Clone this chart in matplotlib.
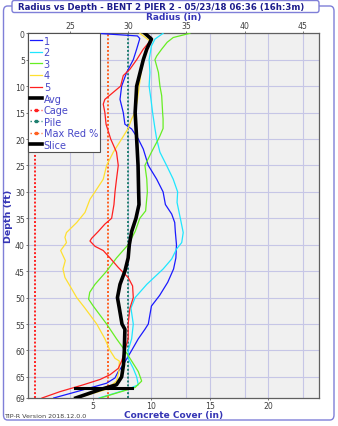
import matplotlib
matplotlib.use("Agg")
import matplotlib.pyplot as plt
from matplotlib.lines import Line2D
from matplotlib.patches import FancyBboxPatch

plt.rcParams['font.family'] = ['DejaVu Sans']

# ---- data (radius in inches vs depth in ft) ----
d1 = [0, 0.5, 1.0, 3, 5, 7.4, 10, 12.5, 15, 17.2, 18.1, 20, 21.9, 25, 27.6, 30, 32.4, 34.2, 35.8, 37.5, 40, 42.5, 44.6, 47.1, 49.6, 51.6, 55, 56, 57.8, 60, 62.7, 64, 65.2, 66.2, 67.8, 69]
r1 = [27.3, 30.8, 31.0, 30.73, 30.44, 29.87, 29.44, 29.3, 29.58, 29.72, 30.3, 30.87, 31.3, 31.73, 32.45, 33.0, 33.2, 33.74, 34.0, 34.05, 34.15, 34.1, 33.9, 33.4, 32.7, 32.0, 31.73, 31.44, 30.87, 30.3, 29.58, 29.15, 28.87, 28.15, 25.58, 23.6]

d2 = [0, 1.1, 2.4, 5, 7.4, 10, 12.5, 15, 18, 20, 22.5, 25, 27.6, 30, 32, 35.2, 37.7, 39.6, 40.8, 42.7, 44.6, 47.5, 50, 52, 55, 57.8, 60, 61.5, 63.4, 65, 66.5, 67.4, 69]
r2 = [33.0, 32.3, 32.0, 31.8, 31.87, 31.8, 31.96, 32.1, 32.3, 32.45, 32.73, 33.3, 33.87, 34.25, 34.2, 34.5, 34.73, 34.6, 34.16, 33.74, 33.0, 31.6, 30.6, 30.24, 30.44, 30.3, 30.0, 30.0, 30.44, 30.73, 30.87, 29.9, 27.5]

d3 = [0, 0.8, 1.7, 3, 4.3, 5, 7.4, 10, 11.8, 15, 16.2, 18, 19.4, 20, 22.5, 25, 27.6, 30, 33.6, 35, 37.5, 40, 42.5, 45, 47.5, 49, 50.3, 51.6, 55, 57.8, 60, 62, 64, 65.8, 67, 69]
r3 = [35.3, 33.87, 33.35, 32.88, 32.45, 32.3, 32.6, 32.73, 32.88, 32.96, 33.0, 33.0, 32.73, 32.6, 32.0, 31.44, 31.6, 31.65, 31.5, 31.0, 30.6, 30.0, 29.0, 28.15, 27.15, 26.7, 26.6, 27.0, 28.15, 29.0, 29.72, 30.3, 30.87, 31.16, 30.6, 27.6]

d4 = [0, 1.5, 3, 5, 7.5, 10, 12.5, 15, 16.2, 18, 20, 22.5, 25, 27.6, 30, 31.4, 33.9, 35.8, 37.7, 38.6, 39.6, 41.1, 43, 44.6, 46.2, 47.8, 50, 52, 55, 57.8, 60, 61.5, 62, 64, 65.8, 67.4, 69]
r4 = [31.0, 31.9, 31.6, 31.3, 31.1, 30.95, 30.8, 30.58, 30.3, 30.0, 29.44, 28.72, 28.15, 27.86, 27.15, 26.72, 26.29, 25.58, 24.7, 24.57, 24.7, 24.2, 24.6, 24.4, 24.57, 25.0, 25.58, 26.29, 27.3, 28.0, 28.44, 28.87, 29.24, 29.2, 29.0, 28.1, 25.6]

d5 = [0, 0.8, 1.7, 3, 5, 6.8, 8, 10, 11.2, 12.5, 13.4, 15, 17.2, 20, 22.5, 25, 27.6, 30, 32.4, 35, 36.1, 37.5, 38.8, 39.3, 40.3, 41.1, 42.5, 44.3, 46.2, 47.8, 50, 52, 55, 57.8, 60, 62, 63.4, 64.6, 65.5, 66.5, 67.8, 69]
r5 = [31.5, 32.0, 31.8, 31.3, 30.73, 30.15, 29.58, 29.35, 28.7, 28.0, 27.86, 28.0, 28.1, 28.5, 29.0, 29.15, 29.0, 28.87, 28.78, 28.58, 28.0, 27.43, 26.86, 26.72, 27.15, 27.86, 28.44, 29.15, 30.0, 30.38, 30.44, 30.15, 30.0, 30.0, 29.72, 29.44, 29.15, 28.44, 27.58, 26.15, 24.14, 22.6]

d_avg = [0, 1.1, 3, 5, 10, 15, 20, 25, 30, 32.4, 35, 37.5, 40, 42.5, 45, 47.5, 50, 52, 55, 56, 60, 62.7, 65, 66.5, 67.4, 69]
r_avg = [31.44, 32.0, 31.6, 31.3, 30.73, 30.6, 30.73, 30.85, 30.9, 30.93, 30.67, 30.3, 30.1, 30.0, 29.72, 29.3, 29.08, 29.24, 29.47, 29.72, 29.67, 29.6, 29.44, 29.0, 27.6, 25.5]

cage_radius = 22.0
pile_radius = 30.0
max_red_radius = 28.25
slice_depth = 67.2
slice_r = [25.4, 30.3]

radius_ticks = [25, 30, 35, 40, 45]
cover_ticks = [5, 10, 15, 20]
depth_ticks = [0, 5, 10, 15, 20, 25, 30, 35, 40, 45, 50, 55, 60, 65, 69]
depth_max = 69
r_lim = (21.37, 46.42)

title = "Radius vs Depth - BENT 2 PIER 2 - 05/23/18 06:36 (16h:3m)"

# ---- figure ----
W, H = 338, 427
fig = plt.figure(figsize=(W / 100, H / 100), dpi=100)
fig.patch.set_facecolor('white')

# outer frame
frame = FancyBboxPatch((3.5 / W, 1 - 421 / H), (334 - 3.5) / W, (421 - 7) / H,
                       boxstyle="round,pad=0,rounding_size=0.012",
                       transform=fig.transFigure, facecolor='white',
                       edgecolor='#7f7fd8', linewidth=1.0, zorder=-2)
fig.patches.append(frame)

left, right = 27.7 / W, 319.3 / W
top, bottom = 1 - 34.3 / H, 1 - 399 / H
ax = fig.add_axes([left, bottom, right - left, top - bottom])
ax.set_facecolor('#f0f0f0')

grid_c = '#c6c6e6'
for t in depth_ticks[:-1]:
    ax.axhline(t, color=grid_c, lw=0.8, zorder=1)
for t in radius_ticks:
    ax.axvline(t, color=grid_c, lw=0.8, zorder=1)
for t in cover_ticks:
    ax.axvline(t + cage_radius, color=grid_c, lw=0.8, zorder=1)

ax.axvline(cage_radius, color='#ff2020', lw=1.4, ls=(0, (1, 1)), zorder=2)
ax.axvline(max_red_radius, color='#ff6020', lw=1.4, ls=(0, (1, 1)), zorder=2)
ax.axvline(pile_radius, color='#1f8070', lw=1.4, ls=(0, (1, 1)), zorder=2)

ax.plot(r1, d1, color='#1a1aff', lw=0.9, zorder=3)
ax.plot(r2, d2, color='#1ee6ff', lw=0.9, zorder=3)
ax.plot(r3, d3, color='#66ee22', lw=0.9, zorder=3)
ax.plot(r4, d4, color='#ffe030', lw=0.9, zorder=3)
ax.plot(r5, d5, color='#ff2020', lw=0.9, zorder=3)
ax.plot(r_avg, d_avg, color='black', lw=2.6, zorder=4)
ax.plot(slice_r, [slice_depth, slice_depth], color='black', lw=2.2, zorder=4)

ax.set_xlim(*r_lim)
ax.set_ylim(depth_max, 0)

tick_c = '#404040'
tfs = 5.6
ax.xaxis.tick_top()
ax.set_xticks(radius_ticks)
ax.set_xticklabels([str(t) for t in radius_ticks], fontsize=tfs, color=tick_c)
ax.set_yticks(depth_ticks)
ax.set_yticklabels([str(t) for t in depth_ticks], fontsize=tfs, color=tick_c)
ax.tick_params(axis='both', length=1.6, width=0.6, color='#606060', pad=0.5)
ax.tick_params(axis='x', top=True, bottom=False)

sec = ax.secondary_xaxis('bottom', functions=(lambda r: r - cage_radius, lambda c: c + cage_radius))
sec.set_xticks(cover_ticks)
sec.set_xticklabels([str(t) for t in cover_ticks], fontsize=tfs, color=tick_c)
sec.tick_params(length=1.6, width=0.6, color='#606060', pad=0.5)
sec.spines['bottom'].set_visible(False)

for s in ax.spines.values():
    s.set_color('#606060')
    s.set_linewidth(0.9)

lab_c = '#3535b5'
cx = (27.7 + 319.3) / 2 / W
fig.text(cx, 1 - 17.8 / H, 'Radius (in)', ha='center', va='center', fontsize=6.5,
         fontweight='bold', color=lab_c)
fig.text(cx, 1 - 415.3 / H, 'Concrete Cover (in)', ha='center', va='center', fontsize=6.5,
         fontweight='bold', color=lab_c)
fig.text(8.5 / W, (top + bottom) / 2, 'Depth (ft)', ha='center', va='center', fontsize=6.8,
         fontweight='bold', color=lab_c, rotation=90)

# legend
handles = [
    Line2D([], [], color='#1a1aff', lw=0.9),
    Line2D([], [], color='#1ee6ff', lw=0.9),
    Line2D([], [], color='#66ee22', lw=0.9),
    Line2D([], [], color='#ffe030', lw=0.9),
    Line2D([], [], color='#ff2020', lw=0.9),
    Line2D([], [], color='black', lw=2.6),
    Line2D([], [], color='#ff2020', lw=1.0, ls=':', marker='s', ms=2),
    Line2D([], [], color='#1f8070', lw=1.0, ls=':', marker='s', ms=2),
    Line2D([], [], color='#ff6020', lw=1.0, ls=':', marker='s', ms=2),
    Line2D([], [], color='black', lw=2.6),
]
labels = ['1', '2', '3', '4', '5', 'Avg', 'Cage', 'Pile', 'Max Red %', 'Slice']
leg = ax.legend(handles, labels, loc='upper left', bbox_to_anchor=(0, 1),
                borderaxespad=0, fontsize=7, frameon=True, fancybox=False,
                handlelength=1.2, handletextpad=0.2, labelspacing=0.16,
                borderpad=0.25, numpoints=1)
leg.get_frame().set_edgecolor('#505050')
leg.get_frame().set_linewidth(0.8)
leg.get_frame().set_facecolor('white')
leg.get_frame().set_alpha(1)
for t in leg.get_texts():
    t.set_color('#4848c8')
leg.set_zorder(10)

# title box
tbox = FancyBboxPatch((12 / W, 1 - 13.5 / H), (319 - 12) / W, 12 / H,
                      boxstyle="round,pad=0,rounding_size=0.006",
                      transform=fig.transFigure, facecolor='white',
                      edgecolor='#7f7fd8', linewidth=1.0, zorder=-1)
fig.patches.append(tbox)
fig.text(161 / W, 1 - 7.3 / H, title, ha='center', va='center', fontsize=6.2,
         fontweight='bold', color='#1c1c8c')

fig.text(4 / W, 1 - 417 / H, 'TIP-R Version 2018.12.0.0', ha='left', va='center',
         fontsize=4.6, color='#404040')

fig.savefig('out.png', dpi=100, facecolor='white')
